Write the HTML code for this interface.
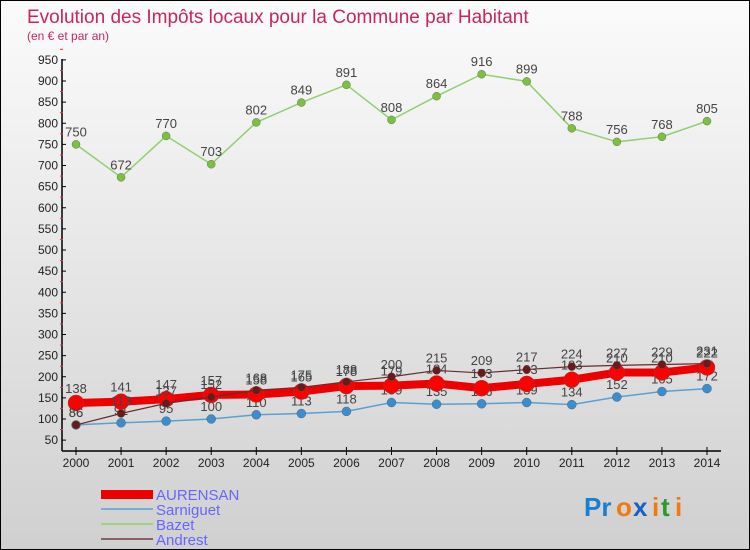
<!DOCTYPE html>
<html><head><meta charset="utf-8"><style>
body{margin:0}
#c{width:750px;height:550px;position:relative;background:linear-gradient(#fbfbfb,#d0d0d0);border:1px solid #000;box-sizing:border-box;overflow:hidden;font-family:"Liberation Sans",sans-serif}
</style></head><body>
<div id="c">
<svg id="s" width="750" height="550" xmlns="http://www.w3.org/2000/svg" font-family="Liberation Sans, sans-serif">
<text x="26" y="22" font-size="19" fill="#c8255e">Evolution des Impôts locaux pour la Commune par Habitant</text>
<text x="26" y="39" font-size="12" fill="#c8255e">(en € et par an)</text>
<g id="axes"></g><g id="series"></g>
<g>
<rect x="100" y="489" width="52" height="9" fill="#e00"/>
<text x="155" y="499" font-size="15" fill="#66f">AURENSAN</text>
<rect x="100" y="507" width="52" height="2" fill="#7aaed0"/>
<text x="155" y="514" font-size="15" fill="#66f">Sarniguet</text>
<rect x="100" y="522" width="52" height="2" fill="#9ed27e"/>
<text x="155" y="529" font-size="15" fill="#66f">Bazet</text>
<rect x="100" y="537" width="52" height="2" fill="#8a6060"/>
<text x="155" y="544" font-size="15" fill="#66f">Andrest</text>
</g>
<g font-size="26" font-weight="bold">
<text x="583" y="515" fill="#1a7fd0">Pr</text><text x="615" y="515" fill="#f07a10">o</text><text x="632" y="515" fill="#1a60c0">x</text><text x="651" y="515" fill="#f07a10">i</text><text x="660" y="515" fill="#2a9a2a">t</text><text x="674" y="515" fill="#f07a10">i</text>
</g>
</svg>
</div>
<script>
const years=["2000","2001","2002","2003","2004","2005","2006","2007","2008","2009","2010","2011","2012","2013","2014"];
const aurensan=[138,141,147,157,158,165,178,179,184,173,183,193,210,210,222];
const sarniguet=[86,91,95,100,110,113,118,139,135,136,139,134,152,165,172];
const bazet=[750,672,770,703,802,849,891,808,864,916,899,788,756,768,805];
const andrest=[86,113,137,152,168,175,188,200,215,209,217,224,227,229,231];
const yTicks=[50,100,150,200,250,300,350,400,450,500,550,600,650,700,750,800,850,900,950];
const NS="http://www.w3.org/2000/svg";
const X=i=>75+i*(706-75)/(years.length-1);
const Y=v=>418-(v-100)*0.4225;
function mk(t,a,p){const e=document.createElementNS(NS,t);for(const k in a)e.setAttribute(k,a[k]);p.appendChild(e);return e;}
const ax=document.getElementById('axes');
let l=mk('line',{x1:61,y1:58,x2:61,y2:450,stroke:'#000','stroke-width':1.5},ax);


l=mk('line',{x1:61,y1:450,x2:720,y2:450,stroke:'#000','stroke-width':1.5},ax);


yTicks.forEach(v=>{
 mk('line',{x1:61,y1:Y(v),x2:65,y2:Y(v),stroke:'#000'},ax);
 mk('line',{x1:59,y1:Y(v+25),x2:62,y2:Y(v+25),stroke:'#e33'},ax);
 const t=mk('text',{x:57,y:Y(v)+4,'font-size':12,'text-anchor':'end',fill:'#222'},ax);
 t.textContent=v;
 
 
});
years.forEach((y,i)=>{
 mk('line',{x1:X(i),y1:446,x2:X(i),y2:454,stroke:'#000'},ax);
 const t=mk('text',{x:X(i),y:466,'font-size':12,'text-anchor':'middle',fill:'#222'},ax);
 t.textContent=y;
 
 
});
const sg=document.getElementById('series');
function series(name,d,color,w,r,dot,lblDy){
 const g=mk('g',{},sg);
 
 
 const pl=mk('polyline',{points:d.map((v,i)=>X(i)+','+Y(v)).join(' '),fill:'none',stroke:color,'stroke-width':w,'stroke-linejoin':'round'},g);
 
 
 d.forEach((v,i)=>{
  const c=mk('circle',{cx:X(i),cy:Y(v),r:r,fill:dot,stroke:'#555','stroke-width':0.4},g);
  
  
  const t=mk('text',{x:X(i),y:Y(v)+lblDy,'font-size':13,'text-anchor':'middle',fill:'#444'},g);
  t.textContent=v;
  
  
 });
}
series('sarniguet',sarniguet,'#5aa0d0',1.5,4.5,'#3a8ed0',-8);
series('bazet',bazet,'#90d070',1.5,4,'#7cc040',-8);
series('aurensan',aurensan,'#ee0000',8,8,'#f00',-10);
series('andrest',andrest,'#6a2a2a',1.2,4,'#6a1a1a',-8);
</script>
</body></html>
